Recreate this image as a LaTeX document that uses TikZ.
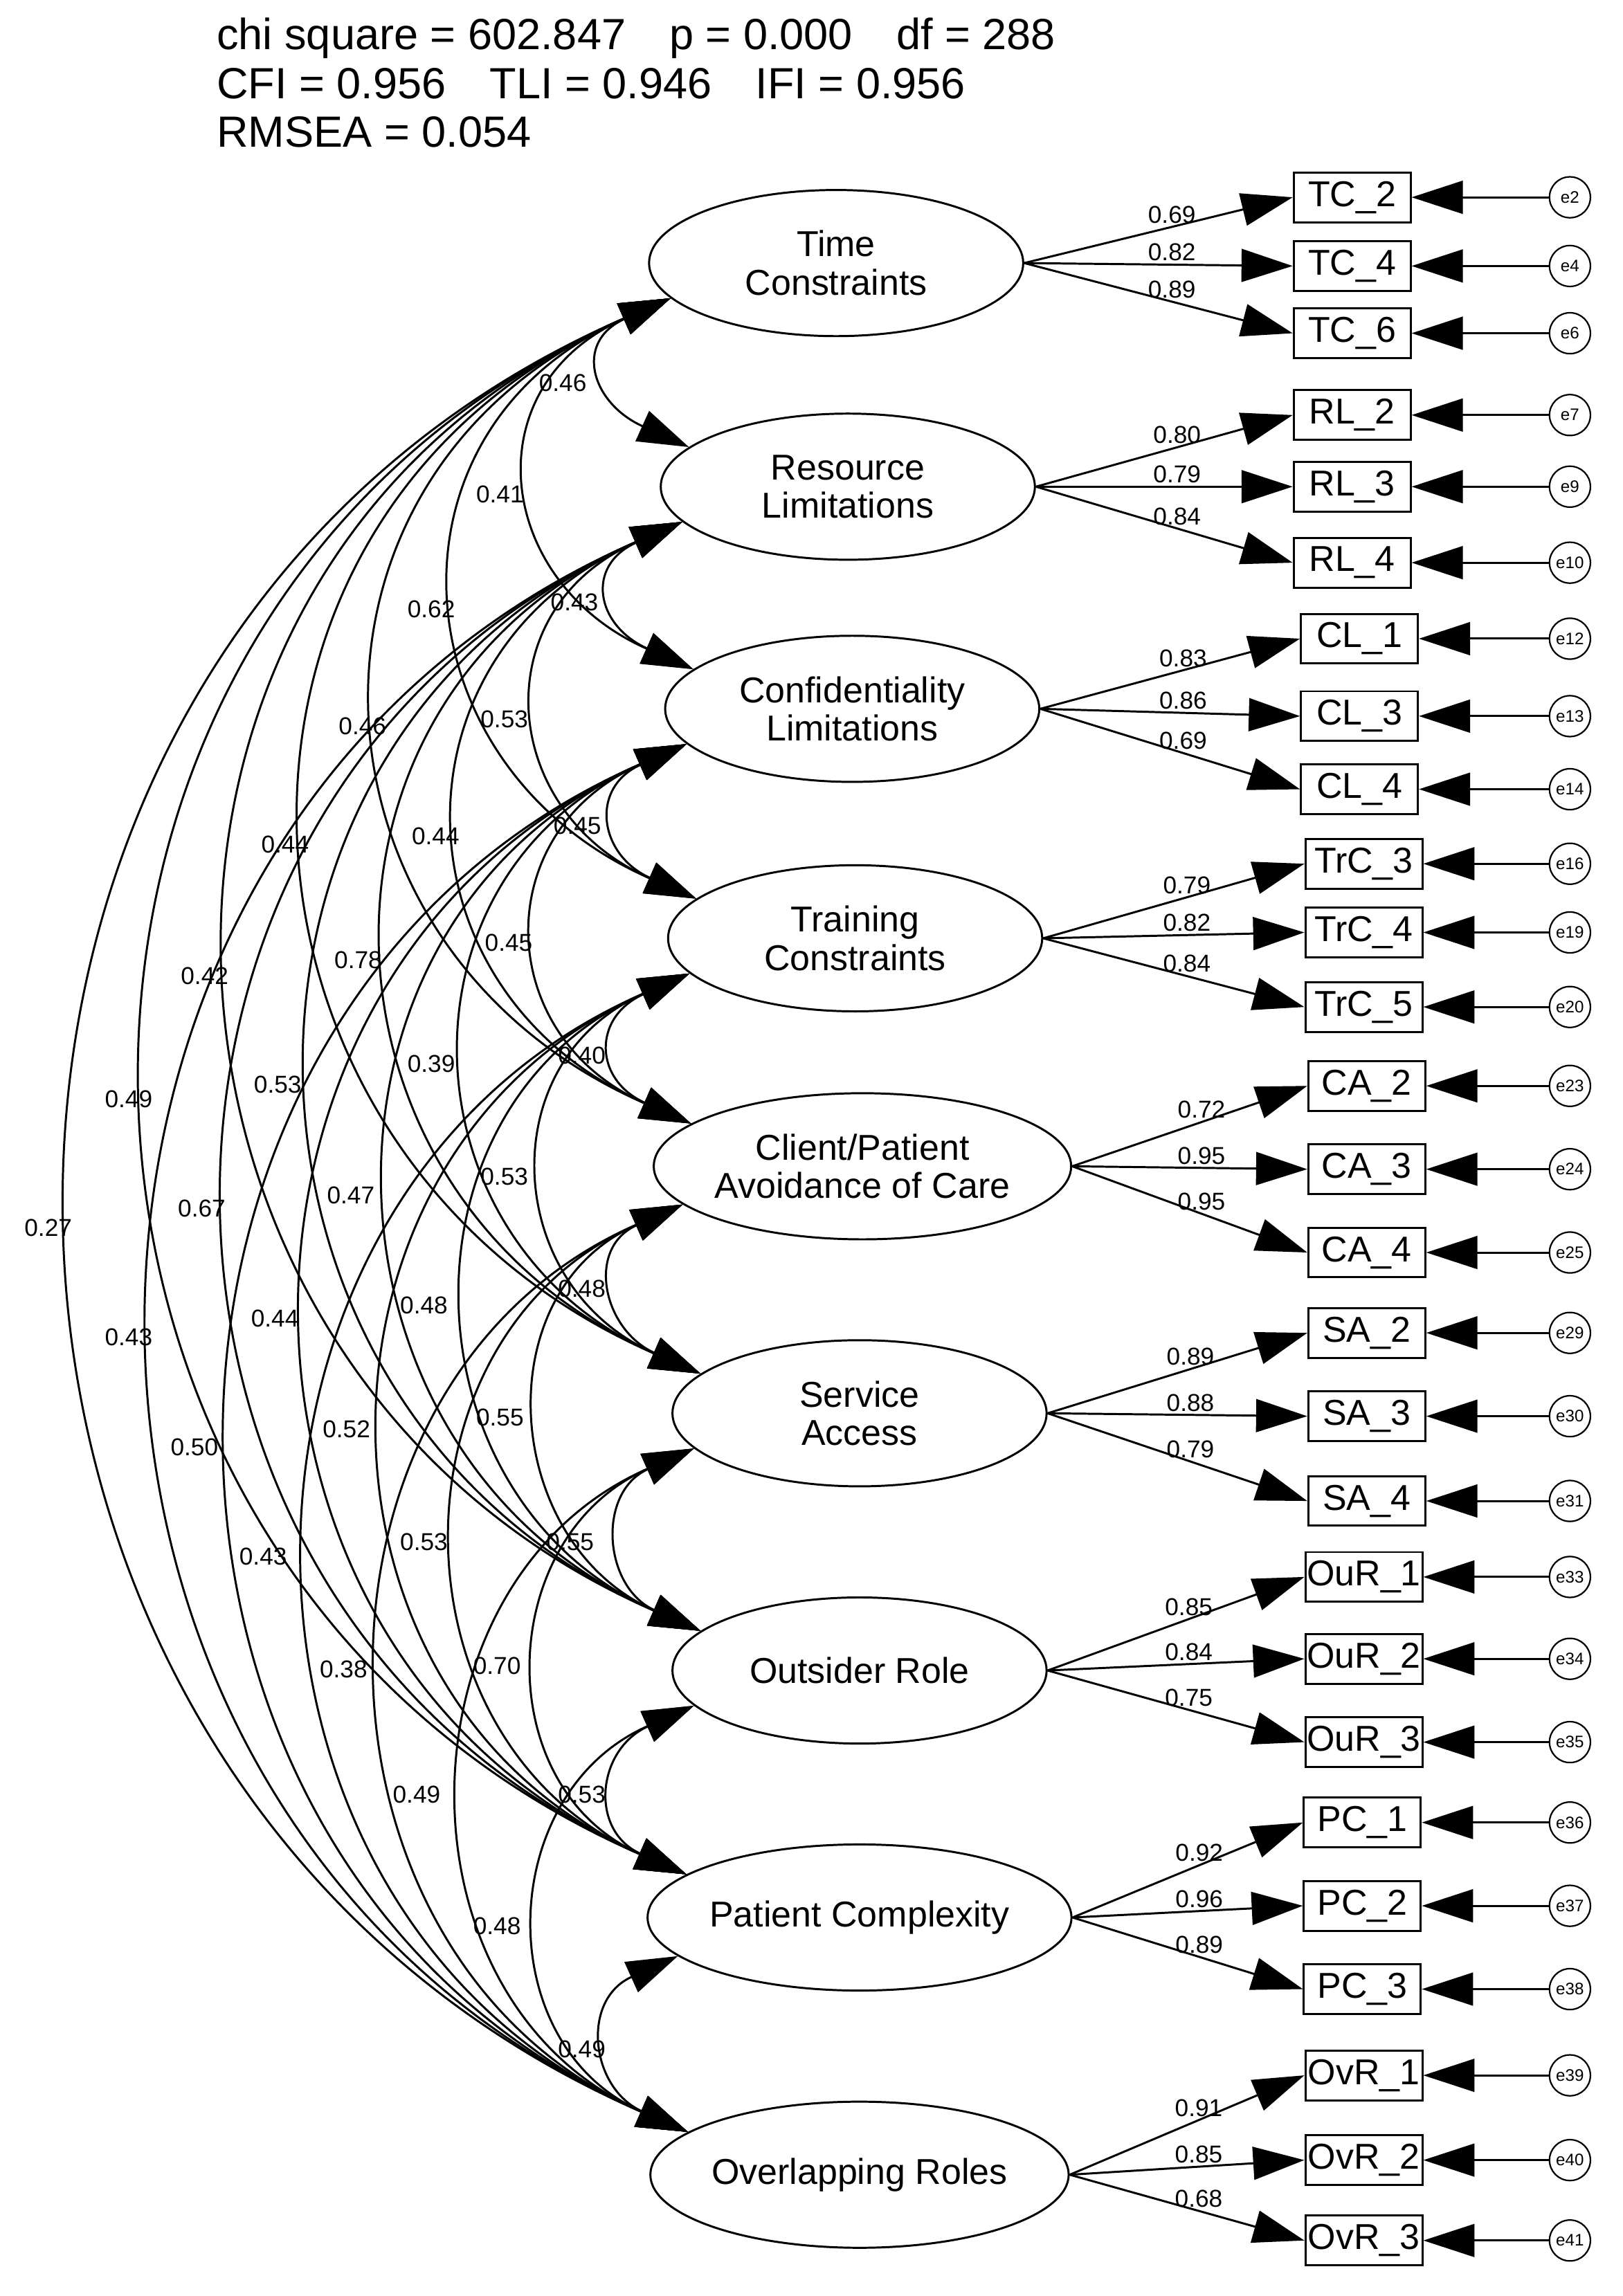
\documentclass[tikz,border=0pt]{standalone}
\usepackage{fontspec}
\setmainfont{Liberation Sans}
\usetikzlibrary{shapes.geometric,arrows.meta}
\tikzset{
	factor/.style={ellipse,draw,line width=0.8pt,minimum width=5.12cm,minimum height=2cm,inner sep=0pt,align=center,font=\fontsize{14}{15}\selectfont},
	item/.style={rectangle,draw,line width=0.8pt,minimum width=1.6cm,minimum height=0.68cm,inner sep=0pt,font=\fontsize{14}{15}\selectfont},
	err/.style={circle,draw,line width=0.6pt,minimum size=0.56cm,inner sep=0pt,font=\fontsize{6.5}{7}\selectfont},
	lbl/.style={font=\fontsize{9.5}{10}\selectfont,inner sep=1pt},
	tip/.style={line width=0.8pt,-{Triangle[length=0.7cm,width=0.45cm]}},
	cov/.style={line width=0.8pt,{Triangle[length=0.7cm,width=0.45cm]}-{Triangle[length=0.7cm,width=0.45cm]}}
}
\begin{document}
\begin{tikzpicture}[x=0.02cm,y=-0.02cm]
\useasboundingbox (0,0) rectangle (1110,1571);

\node[anchor=north west,align=left,font=\fontsize{17}{19}\selectfont,inner sep=0pt] (fit) at (148,12)
	{chi square = 602.847\quad p = 0.000\quad df = 288\\CFI = 0.956\quad TLI = 0.946\quad IFI = 0.956\\RMSEA = 0.054};

% factors
\node[factor] (f1) at (572,180) {Time\\Constraints};
\node[factor] (f2) at (580,333) {Resource\\Limitations};
\node[factor] (f3) at (583,485) {Confidentiality\\Limitations};
\node[factor] (f4) at (585,642) {Training\\Constraints};
\node[factor] (f5) at (590,798) {Client/Patient\\Avoidance of Care};
\node[factor] (f6) at (588,967) {Service\\Access};
\node[factor] (f7) at (588,1143) {Outsider Role};
\node[factor] (f8) at (588,1312) {Patient Complexity};
\node[factor] (f9) at (588,1488) {Overlapping Roles};

% indicators and errors
\foreach \f/\r/\y/\x/\e/\v in {
	1/TC\_2/135/925/e2/0.69, 1/TC\_4/182/925/e4/0.82, 1/TC\_6/228/925/e6/0.89,
	2/RL\_2/284/925/e7/0.80, 2/RL\_3/333/925/e9/0.79, 2/RL\_4/385/925/e10/0.84,
	3/CL\_1/437/930/e12/0.83, 3/CL\_3/490/930/e13/0.86, 3/CL\_4/540/930/e14/0.69,
	4/TrC\_3/591/933/e16/0.79, 4/TrC\_4/638/933/e19/0.82, 4/TrC\_5/689/933/e20/0.84,
	5/CA\_2/743/935/e23/0.72, 5/CA\_3/800/935/e24/0.95, 5/CA\_4/857/935/e25/0.95,
	6/SA\_2/912/935/e29/0.89, 6/SA\_3/969/935/e30/0.88, 6/SA\_4/1027/935/e31/0.79,
	7/OuR\_1/1079/933/e33/0.85, 7/OuR\_2/1135/933/e34/0.84, 7/OuR\_3/1192/933/e35/0.75,
	8/PC\_1/1247/932/e36/0.92, 8/PC\_2/1304/932/e37/0.96, 8/PC\_3/1361/932/e38/0.89,
	9/OvR\_1/1420/933/e39/0.91, 9/OvR\_2/1478/933/e40/0.85, 9/OvR\_3/1533/933/e41/0.68} {
	\node[item] (m\e) at (\x,\y) {\r};
	\node[err] (\e) at (1074,\y) {\e};
	\draw[tip] (f\f.east) -- node[lbl,pos=0.55,above] {\v} (m\e.west);
	\draw[tip] (\e) -- (m\e.east);
};

% covariances
\foreach \i/\j/\v/\lx/\ly in {
	1/2/0.46/385/262, 2/3/0.43/393/412, 3/4/0.45/395/565, 4/5/0.40/398/722,
	5/6/0.48/398/882, 6/7/0.55/390/1055, 7/8/0.53/398/1228, 8/9/0.49/398/1402,
	1/3/0.41/342/338, 2/4/0.53/345/492, 3/5/0.45/348/645, 4/6/0.53/345/805,
	5/7/0.55/342/970, 6/8/0.70/340/1140, 7/9/0.48/340/1318,
	1/4/0.62/295/417, 2/5/0.44/298/572, 3/6/0.39/295/728, 4/7/0.48/290/893,
	5/8/0.53/290/1055, 6/9/0.49/285/1228,
	1/5/0.46/248/497, 2/6/0.78/245/657, 3/7/0.47/240/818, 4/8/0.52/237/978,
	5/9/0.38/235/1142,
	1/6/0.44/195/578, 2/7/0.53/190/742, 3/8/0.44/188/902, 4/9/0.43/180/1065,
	1/7/0.42/140/668, 2/8/0.67/138/827, 3/9/0.50/133/990,
	1/8/0.49/88/752, 2/9/0.43/88/915,
	1/9/0.27/33/840} {
	\pgfmathsetmacro\k{\j-\i}
	\pgfmathsetmacro\b{1.333*(52*\k-2)}
	\draw[cov] (f\i.192) .. controls +({-\b},{30*\k}) and +({-\b},{-30*\k}) .. (f\j.166);
	\node[lbl] (c\i\j) at (\lx,\ly) {\v};
};

\end{tikzpicture}
\end{document}
